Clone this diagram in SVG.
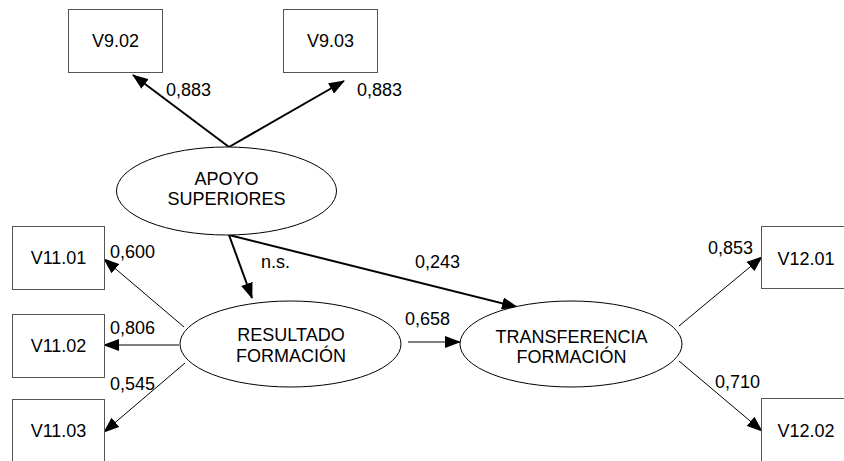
<svg xmlns="http://www.w3.org/2000/svg" width="844" height="461" viewBox="0 0 844 461">
<style>
  .box { fill: #ffffff; stroke: #555555; stroke-width: 1; }
  .lat { fill: #ffffff; stroke: #000000; stroke-width: 1; }
  .t { font-family: "Liberation Sans", Arial, sans-serif; font-size: 18px; fill: #000000; }
  .m { text-anchor: middle; }
  .thick { stroke: #000000; stroke-width: 2; fill: none; marker-end: url(#ah); }
  .thin { stroke: #000000; stroke-width: 1; fill: none; marker-end: url(#ah); }
</style>
<defs>
  <marker id="ah" viewBox="0 0 16 12" refX="15" refY="6" markerWidth="16" markerHeight="12" markerUnits="userSpaceOnUse" orient="auto">
    <path d="M0,0 L16,6 L0,12 z" fill="#000000"/>
  </marker>
</defs>
<rect x="0" y="0" width="844" height="461" fill="#ffffff"/>

<g id="connectors">
  <line class="thick" x1="229" y1="147" x2="133" y2="75"/>
  <line class="thick" x1="229" y1="147" x2="344" y2="81"/>
  <line class="thick" x1="229" y1="235" x2="252" y2="298"/>
  <line class="thick" x1="229" y1="235" x2="517" y2="307"/>
  <line class="thin" x1="408" y1="342" x2="460" y2="342"/>
  <line class="thin" x1="184" y1="327" x2="104" y2="259"/>
  <line class="thin" x1="179" y1="345" x2="104" y2="345"/>
  <line class="thin" x1="185" y1="363" x2="104" y2="432"/>
  <line class="thin" x1="679" y1="326" x2="762" y2="257"/>
  <line class="thin" x1="679" y1="361" x2="762" y2="431"/>
  <text class="t" x="166" y="96">0,883</text>
  <text class="t" x="357" y="96">0,883</text>
  <text class="t" x="261" y="268">n.s.</text>
  <text class="t" x="415" y="268">0,243</text>
  <text class="t" x="405" y="325">0,658</text>
  <text class="t" x="110" y="258">0,600</text>
  <text class="t" x="110" y="334">0,806</text>
  <text class="t" x="110" y="390">0,545</text>
  <text class="t" x="708" y="254">0,853</text>
  <text class="t" x="715" y="388">0,710</text>
</g>

<g id="V9.02">
  <rect class="box" x="68.5" y="9.5" width="94" height="63"/>
  <text class="t m" x="115.5" y="47">V9.02</text>
</g>
<g id="V9.03">
  <rect class="box" x="283.5" y="9.5" width="94" height="63"/>
  <text class="t m" x="330.5" y="47">V9.03</text>
</g>
<g id="apoyo">
  <ellipse class="lat" cx="226.5" cy="191" rx="110" ry="44"/>
  <text class="t m" x="226.5" y="185">APOYO</text>
  <text class="t m" x="226.5" y="205">SUPERIORES</text>
</g>
<g id="V11.01">
  <rect class="box" x="12.5" y="226.5" width="92" height="63"/>
  <text class="t m" x="58.5" y="264">V11.01</text>
</g>
<g id="V11.02">
  <rect class="box" x="12.5" y="314.5" width="92" height="63"/>
  <text class="t m" x="58.5" y="352">V11.02</text>
</g>
<g id="V11.03">
  <rect class="box" x="12.5" y="399.5" width="92" height="63"/>
  <text class="t m" x="58.5" y="437">V11.03</text>
</g>
<g id="resultado">
  <ellipse class="lat" cx="290.5" cy="344" rx="110.5" ry="43"/>
  <text class="t m" x="291" y="341">RESULTADO</text>
  <text class="t m" x="291" y="362">FORMACIÓN</text>
</g>
<g id="transferencia">
  <ellipse class="lat" cx="571" cy="344" rx="111" ry="43"/>
  <text class="t m" x="571.5" y="343">TRANSFERENCIA</text>
  <text class="t m" x="571.5" y="363">FORMACIÓN</text>
</g>
<g id="V12.01">
  <rect class="box" x="761.5" y="226.5" width="91" height="62"/>
  <text class="t m" x="806" y="265">V12.01</text>
</g>
<g id="V12.02">
  <rect class="box" x="761.5" y="398.5" width="91" height="64"/>
  <text class="t m" x="806" y="437">V12.02</text>
</g>
</svg>
